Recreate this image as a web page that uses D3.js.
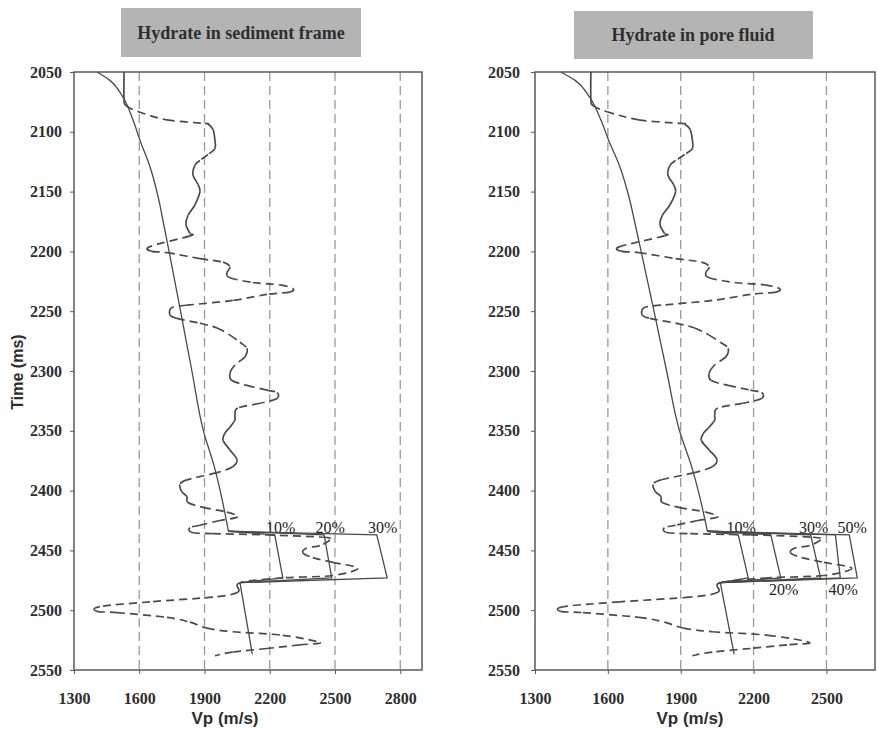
<!DOCTYPE html>
<html>
<head>
<meta charset="utf-8">
<script src="https://cdn.jsdelivr.net/npm/d3@7"></script>
<style>
  body { margin: 0; background: #fff; }
</style>
</head>
<body>
<svg id="chart" width="877" height="732"></svg>
<script>
// measured Vp log (same well in both panels)
const logTime = [2050, 2073, 2078, 2083, 2090, 2093, 2093.5, 2098, 2107, 2114, 2119, 2124, 2128, 2136, 2144, 2150,
  2161, 2170, 2178, 2185, 2187, 2196, 2200, 2201, 2206, 2209, 2213, 2218, 2222, 2226, 2228, 2231, 2234, 2236,
  2241, 2245, 2247, 2253, 2256, 2260, 2264, 2270, 2276, 2281, 2288, 2295, 2302, 2308, 2312, 2316, 2318, 2323,
  2327, 2331, 2337, 2341, 2347, 2352, 2358, 2366, 2374, 2380, 2385, 2391, 2395, 2401, 2405, 2410, 2414, 2418,
  2422, 2425, 2429, 2431, 2435, 2436, 2437, 2439, 2441, 2446, 2448, 2452, 2456, 2460, 2465, 2471, 2473, 2477,
  2485, 2489, 2493, 2497, 2501, 2502, 2506, 2510, 2515, 2518, 2521, 2527, 2529, 2532, 2535, 2538];
const logVp = [1530, 1530, 1539, 1594, 1727, 1902, 1916, 1939, 1948, 1948, 1916, 1879, 1856, 1847, 1870, 1879,
  1856, 1824, 1815, 1833, 1833, 1649, 1658, 1727, 1879, 1985, 2017, 2003, 2017, 2122, 2246, 2306, 2292, 2187,
  2030, 1819, 1750, 1741, 1773, 1879, 1957, 2017, 2063, 2095, 2086, 2040, 2017, 2026, 2095, 2187, 2233, 2233,
  2155, 2053, 2040, 2040, 2017, 1994, 1985, 2017, 2049, 2030, 1957, 1819, 1787, 1796, 1819, 1824, 1893, 2003,
  2053, 1971, 1879, 1833, 1842, 1939, 2187, 2444, 2476, 2430, 2370, 2352, 2398, 2490, 2605, 2490, 2260, 2063,
  2053, 1939, 1649, 1419, 1406, 1498, 1727, 1833, 1911, 2030, 2260, 2430, 2338, 2187, 2030, 1948];

// background (no-hydrate) velocity trend
const trendTime = [2050, 2057, 2071, 2090, 2107, 2129, 2157, 2175, 2200, 2250, 2300, 2350, 2380, 2400, 2434];
const trendVp = [1406, 1465, 1525, 1571, 1603, 1649, 1690, 1710, 1737, 1790, 1842, 1895, 1945, 1972, 2010];
const belowTime = [2477, 2537];
const belowVp = [2063, 2120];

// hydrate zone
const zoneTopTime = 2437;
const zoneBottomTime = 2473;

const frameSat = ["10%", "20%", "30%"];
const frameTopVp = [2223, 2450, 2692];
const frameBottomVp = [2260, 2485, 2740];

const poreSat = ["10%", "20%", "30%", "40%", "50%"];
const poreTopVp = [2137, 2271, 2435, 2537, 2594];
const poreBottomVp = [2178, 2312, 2476, 2557, 2627];

const yTicks = [2050, 2100, 2150, 2200, 2250, 2300, 2350, 2400, 2450, 2500, 2550];
const xTicksLeft = [1300, 1600, 1900, 2200, 2500, 2800];
const xTicksRight = [1300, 1600, 1900, 2200, 2500];

const svg = d3.select("#chart");
const ink = "#4a4a4a";
const serif = "'Liberation Serif', 'Times New Roman', serif";
const sans = "'Liberation Sans', Arial, sans-serif";

const panels = [
  { title: "Hydrate in sediment frame", x0: 74, x1: 422, xMax: 2900, ticks: xTicksLeft,
    box: [121, 8, 240, 49], titleX: 241, titleY: 39, xlabX: 225, sat: frameSat, top: frameTopVp,
    bottom: frameBottomVp, below: [], dx: 6, yLabel: true },
  { title: "Hydrate in pore fluid", x0: 535, x1: 875, xMax: 2700, ticks: xTicksRight,
    box: [574, 11, 239, 48], titleX: 693, titleY: 41, xlabX: 690, sat: poreSat, top: poreTopVp,
    bottom: poreBottomVp, below: [1, 3], dx: 3, yLabel: false }
];

const y = d3.scaleLinear().domain([2050, 2550]).range([72, 670]);

panels.forEach(p => {
  const x = d3.scaleLinear().domain([1300, p.xMax]).range([p.x0, p.x1]);
  const g = svg.append("g");

  // title box
  g.append("rect").attr("x", p.box[0]).attr("y", p.box[1]).attr("width", p.box[2]).attr("height", p.box[3])
    .attr("fill", "#b4b4b4");
  g.append("text").attr("x", p.titleX).attr("y", p.titleY).attr("text-anchor", "middle")
    .style("font-family", serif).style("font-weight", "bold")
    .style("font-size", "18px").attr("fill", "#2e2e2e").text(p.title);

  // grid
  g.selectAll(".grid").data(p.ticks.slice(1)).enter().append("line")
    .attr("x1", d => x(d)).attr("x2", d => x(d)).attr("y1", 72).attr("y2", 670)
    .attr("stroke", "#9a9a9a").attr("stroke-width", 1.3).attr("stroke-dasharray", "9,5");

  // frame
  g.append("rect").attr("x", p.x0).attr("y", 72).attr("width", p.x1 - p.x0).attr("height", 598)
    .attr("fill", "none").attr("stroke", "#5a5a5a").attr("stroke-width", 1.5);

  const tickFont = sel => sel.selectAll("text")
    .style("font-family", serif).style("font-weight", "bold")
    .style("font-size", "16px").attr("fill", "#2e2e2e");

  const ya = g.append("g").attr("transform", `translate(${p.x0},0)`)
    .call(d3.axisLeft(y).tickValues(yTicks).tickSize(4).tickPadding(p.yLabel ? 8 : 11).tickFormat(d3.format("d")));
  ya.select(".domain").remove();
  ya.selectAll("line").attr("stroke", "#5a5a5a");
  tickFont(ya);

  const xa = g.append("g").attr("transform", "translate(0,670)")
    .call(d3.axisBottom(x).tickValues(p.ticks).tickSize(4).tickPadding(19).tickFormat(d3.format("d")));
  xa.select(".domain").remove();
  xa.selectAll("line").attr("stroke", "#5a5a5a");
  tickFont(xa);

  g.append("text").attr("x", p.xlabX).attr("y", 724).attr("text-anchor", "middle")
    .style("font-family", sans).style("font-weight", "bold")
    .style("font-size", "17px").attr("fill", "#2e2e2e").text("Vp (m/s)");

  if (p.yLabel) {
    g.append("text").attr("transform", "translate(23,372) rotate(-90)").attr("text-anchor", "middle")
      .style("font-family", sans).style("font-weight", "bold")
      .style("font-size", "16px").attr("fill", "#2e2e2e").text("Time (ms)");
  }

  const line = d3.line().x(d => x(d[0])).y(d => y(d[1]));
  const smooth = d3.line().x(d => x(d[0])).y(d => y(d[1])).curve(d3.curveMonotoneY);

  // trend
  g.append("path").datum(d3.zip(trendVp, trendTime)).attr("d", smooth)
    .attr("fill", "none").attr("stroke", ink).attr("stroke-width", 1.3);
  g.append("path").datum(d3.zip(belowVp, belowTime)).attr("d", line)
    .attr("fill", "none").attr("stroke", ink).attr("stroke-width", 1.3);

  // hydrate saturation lines
  p.sat.forEach((s, i) => {
    const pts = [[trendVp[trendVp.length - 1], trendTime[trendTime.length - 1]],
      [p.top[i], zoneTopTime], [p.bottom[i], zoneBottomTime], [belowVp[0], belowTime[0]]];
    g.append("path").datum(pts).attr("d", line)
      .attr("fill", "none").attr("stroke", ink).attr("stroke-width", 1.3);
    const under = p.below.includes(i);
    g.append("text")
      .attr("x", x(under ? p.bottom[i] : p.top[i]) + p.dx)
      .attr("y", under ? y(zoneBottomTime) + 17 : y(zoneTopTime) - 2)
      .attr("text-anchor", "middle")
      .style("font-family", serif)
      .style("font-size", "16px").attr("fill", "#222").text(s);
  });

  // log drawn piece by piece as a cardinal spline:
  // near-vertical pieces come out solid, long sideways pieces dashed
  const px = d3.zip(logVp, logTime).map(d => [x(d[0]), y(d[1])]);
  const n = px.length;
  const segs = d3.range(n - 1).map(i => {
    const p0 = px[Math.max(i - 1, 0)], p1 = px[i], p2 = px[i + 1], p3 = px[Math.min(i + 2, n - 1)];
    const c1 = [p1[0] + (p2[0] - p0[0]) / 6, p1[1] + (p2[1] - p0[1]) / 6];
    const c2 = [p2[0] - (p3[0] - p1[0]) / 6, p2[1] - (p3[1] - p1[1]) / 6];
    const dashed = Math.abs(p2[0] - p1[0]) > Math.abs(p2[1] - p1[1]);
    return { d: `M${p1}C${c1} ${c2} ${p2}`, dashed };
  });
  g.selectAll(".seg").data(segs).enter().append("path")
    .attr("d", d => d.d).attr("fill", "none")
    .attr("stroke", ink).attr("stroke-width", 1.7)
    .attr("stroke-dasharray", d => d.dashed ? "8,5" : null);
});
</script>
</body>
</html>
